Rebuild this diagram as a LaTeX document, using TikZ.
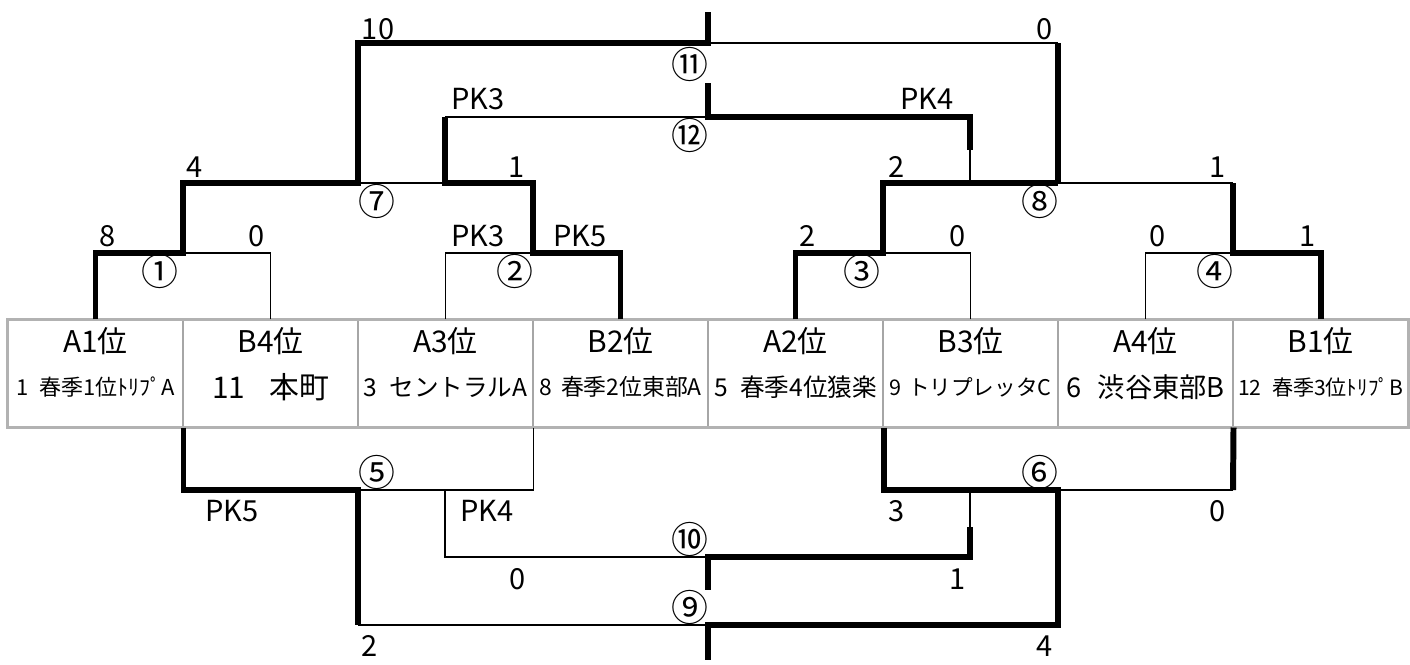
\documentclass[tikz,border=0pt]{standalone}
\usepackage{fontspec}
\setmainfont{Noto Sans CJK JP}
\usetikzlibrary{calc}

\begin{document}
\begin{tikzpicture}[x=0.02cm, y=-0.02cm,
    cell/.style={draw=gray!70, line width=0.6pt, minimum width=3.5cm, minimum height=2.14cm, inner sep=0pt},
    head/.style={font=\fontsize{17}{17}\selectfont, inner sep=0pt},
    team/.style={inner sep=0pt},
    score/.style={font=\fontsize{16.5}{16.5}\selectfont, inner sep=0pt},
    num/.style={font=\fontsize{21}{21}\selectfont, inner sep=0pt},
    win/.style={line width=3.4pt},
    lose/.style={line width=1.1pt}
]
    \useasboundingbox[fill=white] (0,0) rectangle (1410,665);

    % Table
    \node[cell] (t1) at (95.5, 373.5) {};
    \node[cell] (t2) at (270.5, 373.5) {};
    \node[cell] (t3) at (445.5, 373.5) {};
    \node[cell] (t4) at (620.5, 373.5) {};
    \node[cell] (t5) at (795.5, 373.5) {};
    \node[cell] (t6) at (970.5, 373.5) {};
    \node[cell] (t7) at (1145.5, 373.5) {};
    \node[cell] (t8) at (1320.5, 373.5) {};
    \draw[gray!60, line width=1.8pt] (t1.north west) rectangle (t8.south east);

    \node[head] (h1) at (95.5, 341) {A1位};
    \node[head] (h2) at (270.5, 341) {B4位};
    \node[head] (h3) at (445.5, 341) {A3位};
    \node[head] (h4) at (620.5, 341) {B2位};
    \node[head] (h5) at (795.5, 341) {A2位};
    \node[head] (h6) at (970.5, 341) {B3位};
    \node[head] (h7) at (1145.5, 341) {A4位};
    \node[head] (h8) at (1320.5, 341) {B1位};

    \node[team, font=\fontsize{12.5}{12.5}\selectfont] (n1) at (95.5, 387) {1\hspace{0.5em}春季1位ﾄﾘﾌﾟA};
    \node[team, font=\fontsize{17}{17}\selectfont] (n2) at (270.5, 387) {11\hspace{0.8em}本町};
    \node[team, font=\fontsize{14}{14}\selectfont] (n3) at (445.5, 387) {3\hspace{0.5em}セントラルA};
    \node[team, font=\fontsize{13}{13}\selectfont] (n4) at (620.5, 387) {8\hspace{0.4em}春季2位東部A};
    \node[team, font=\fontsize{14}{14}\selectfont] (n5) at (795.5, 387) {5\hspace{0.5em}春季4位猿楽};
    \node[team, font=\fontsize{12.3}{12.3}\selectfont] (n6) at (970.5, 387) {9\hspace{0.3em}トリプレッタC};
    \node[team, font=\fontsize{15.5}{15.5}\selectfont] (n7) at (1145.5, 387) {6\hspace{0.6em}渋谷東部B};
    \node[team, font=\fontsize{12}{12}\selectfont] (n8) at (1320.5, 387) {12\hspace{0.5em}春季3位ﾄﾘﾌﾟB};

    % Match points
    \coordinate (m1) at (183, 253);
    \coordinate (m2) at (533, 253);
    \coordinate (m3) at (883, 253);
    \coordinate (m4) at (1233, 253);
    \coordinate (m7) at (358, 183);
    \coordinate (m8) at (1058, 183);
    \coordinate (m11) at (708, 43);
    \coordinate (m12) at (708, 117);
    \coordinate (m5) at (358, 490);
    \coordinate (m6) at (1058, 490);
    \coordinate (m10) at (708, 557);
    \coordinate (m9) at (708, 625);

    % Upper bracket
    \draw[lose] (t2.north) |- (m1);
    \draw[win] (t1.north) |- (m1) -- (m1 |- m7) -- (m7) -- (m7 |- m11) -- (m11) -- (708, 12);
    \draw[lose] (t3.north) |- (m2);
    \draw[win] (t4.north) |- (m2) -- (m2 |- m7) -- (445, 183) -- (445, 117);
    \draw[lose] (m7) -- (445, 183);
    \draw[lose] (445, 117) -- (m12);
    \draw[lose] (t6.north) |- (m3);
    \draw[win] (t5.north) |- (m3) -- (883, 183) -- (m8);
    \draw[lose] (t7.north) |- (m4);
    \draw[win] (t8.north) |- (m4) -- (1233, 183);
    \draw[lose] (1233, 183) -- (m8);
    \draw[lose] (m11) -- (1058, 43);
    \draw[win] (1058, 43) -- (m8);
    \draw[lose] (970, 183) -- (970, 150);
    \draw[win] (970, 150) -- (970, 117) -- (m12) -- (708, 83);

    % Lower bracket
    \draw[win] (t1.south east) |- (m5) -- (m5 |- m9);
    \draw[lose] (m5 |- m9) -- (m9);
    \draw[lose] (t3.south east) |- (m5);
    \draw[lose] (445, 490) |- (m10);
    \draw[win] (t5.south east) |- (m6) -- (m6 |- m9) -- (m9) -- (708, 660);
    \draw[win] (t7.south east) -- (1233, 490);
    \draw[lose] (1233, 490) -- (m6);
    \draw[lose] (970, 490) -- (970, 527);
    \draw[win] (970, 527) |- (m10) -- (708, 590);

    % Match numbers
    \node[num] (c1) at (160, 271) {①};
    \node[num] (c2) at (515, 271) {②};
    \node[num] (c3) at (862, 271) {③};
    \node[num] (c4) at (1215, 271) {④};
    \node[num] (c5) at (377, 472) {⑤};
    \node[num] (c6) at (1040, 472) {⑥};
    \node[num] (c7) at (377, 201) {⑦};
    \node[num] (c8) at (1040, 201) {⑧};
    \node[num] (c9) at (690, 607) {⑨};
    \node[num] (c10) at (690, 539) {⑩};
    \node[num] (c11) at (690, 64) {⑪};
    \node[num] (c12) at (690, 135) {⑫};

    % Scores
    \node[score] (s1a) at (108, 236) {8};
    \node[score] (s1b) at (257, 236) {0};
    \node[score] (s2a) at (478, 236) {PK3};
    \node[score] (s2b) at (580, 236) {PK5};
    \node[score] (s3a) at (808, 236) {2};
    \node[score] (s3b) at (958, 236) {0};
    \node[score] (s4a) at (1158, 236) {0};
    \node[score] (s4b) at (1308, 236) {1};
    \node[score] (s7a) at (195, 167) {4};
    \node[score] (s7b) at (517, 167) {1};
    \node[score] (s8a) at (897, 167) {2};
    \node[score] (s8b) at (1218, 167) {1};
    \node[score] (s11a) at (378, 29) {10};
    \node[score] (s11b) at (1045, 29) {0};
    \node[score] (s12a) at (478, 99) {PK3};
    \node[score] (s12b) at (927, 99) {PK4};
    \node[score] (s5a) at (232, 511) {PK5};
    \node[score] (s5b) at (487, 511) {PK4};
    \node[score] (s6a) at (897, 511) {3};
    \node[score] (s6b) at (1218, 511) {0};
    \node[score] (s10a) at (518, 579) {0};
    \node[score] (s10b) at (958, 579) {1};
    \node[score] (s9a) at (370, 646) {2};
    \node[score] (s9b) at (1045, 646) {4};
\end{tikzpicture}
\end{document}
